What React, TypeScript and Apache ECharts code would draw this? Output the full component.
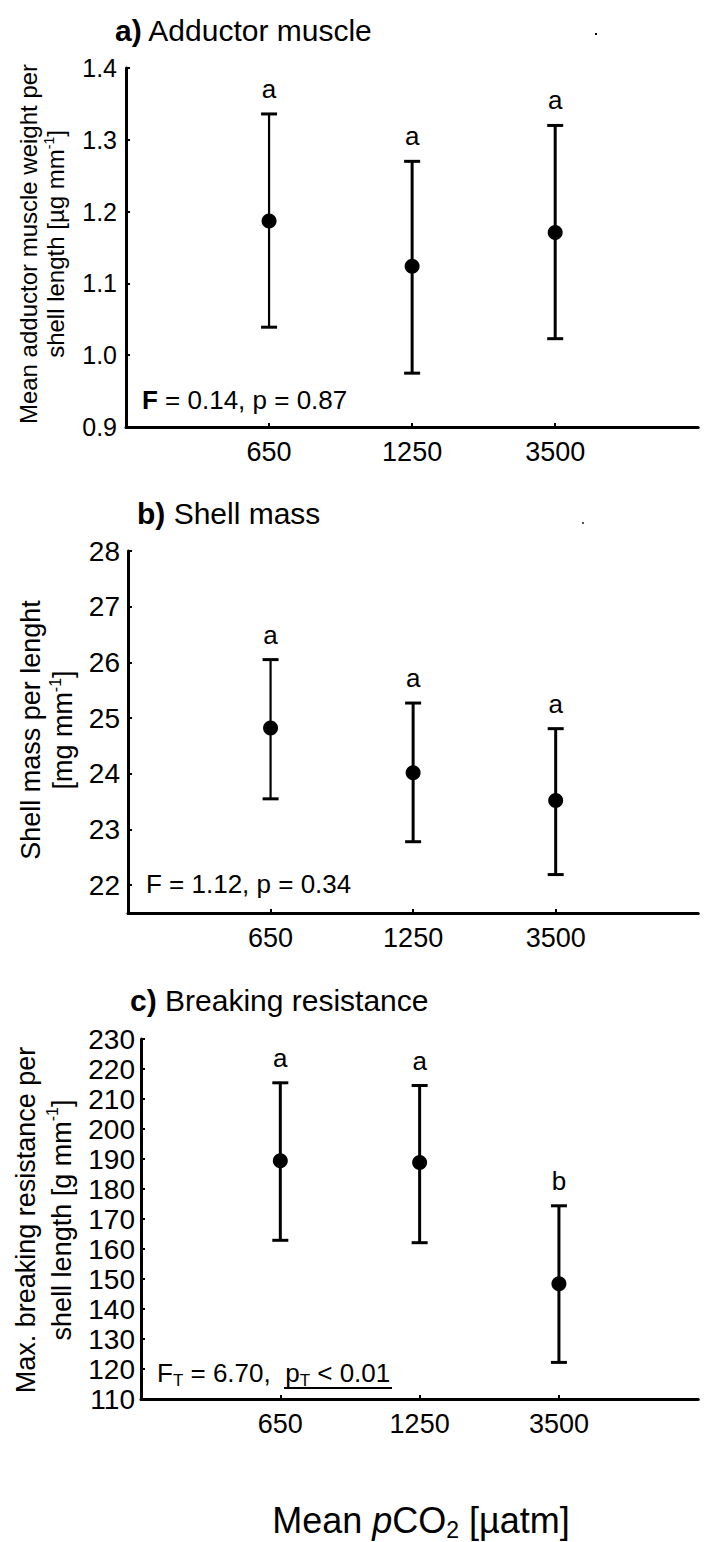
import React, { useEffect, useRef } from "react";
import * as echarts from "echarts";

const FONT = '"Liberation Sans", Arial, Helvetica, sans-serif';

// categories (mean pCO2, µatm)
const categories = ["650", "1250", "3500"];
const xSlots = ["", ...categories, " "];

// a) Adductor muscle
const adductorMean = [1.187, 1.124, 1.171];
const adductorUpper = [1.336, 1.27, 1.32];
const adductorLower = [1.039, 0.975, 1.023];
const adductorLetters = ["a", "a", "a"];

// b) Shell mass
const shellMean = [24.82, 24.02, 23.52];
const shellUpper = [26.05, 25.27, 24.81];
const shellLower = [23.55, 22.78, 22.19];
const shellLetters = ["a", "a", "a"];
const shellTicks = [22, 23, 24, 25, 26, 27, 28];

// c) Breaking resistance
const breakMean = [189.4, 188.8, 148.4];
const breakUpper = [215.4, 214.5, 174.4];
const breakLower = [162.9, 162.1, 122.2];
const breakLetters = ["a", "a", "b"];

const BLACK = "#000";

function makeErrorSeries(idx: number, lower: number[], upper: number[], letters: string[], widths: number[]) {
  return {
    type: "custom",
    xAxisIndex: idx,
    yAxisIndex: idx,
    clip: false,
    z: 2,
    data: lower.map((lo, i) => [i + 1, lo, upper[i]]),
    renderItem: (params: any, api: any) => {
      const top = api.coord([api.value(0), api.value(2)]);
      const bot = api.coord([api.value(0), api.value(1)]);
      const x = top[0];
      const cw = 8;
      const lw = widths[params.dataIndex];
      return {
        type: "group",
        children: [
          { type: "line", shape: { x1: x, y1: top[1], x2: x, y2: bot[1] }, style: { stroke: BLACK, lineWidth: lw } },
          { type: "line", shape: { x1: x - cw, y1: top[1], x2: x + cw, y2: top[1] }, style: { stroke: BLACK, lineWidth: 3 } },
          { type: "line", shape: { x1: x - cw, y1: bot[1], x2: x + cw, y2: bot[1] }, style: { stroke: BLACK, lineWidth: 3 } },
          {
            type: "text",
            style: {
              text: letters[params.dataIndex],
              x,
              y: top[1] - 25,
              align: "center",
              verticalAlign: "middle",
              fontSize: 26,
              fontFamily: FONT,
              fill: BLACK,
            },
          },
        ],
      };
    },
  };
}

function makeMeanSeries(idx: number, means: number[]) {
  return {
    type: "scatter",
    xAxisIndex: idx,
    yAxisIndex: idx,
    symbol: "circle",
    symbolSize: 15,
    z: 3,
    itemStyle: { color: BLACK, opacity: 1 },
    data: means.map((v, i) => [i + 1, v]),
  };
}

function makeXAxis(idx: number) {
  return {
    type: "category",
    gridIndex: idx,
    data: xSlots,
    boundaryGap: false,
    axisLine: { lineStyle: { color: BLACK, width: 3 } },
    axisTick: {
      show: true,
      inside: true,
      length: 4,
      interval: (i: number) => i >= 1 && i <= categories.length,
      lineStyle: { color: BLACK, width: 2 },
    },
    axisLabel: { interval: 0, color: BLACK, fontSize: 27, fontFamily: FONT, margin: 11 },
    splitLine: { show: false },
  };
}

export default function App() {
  const ref = useRef<HTMLDivElement>(null);
  useEffect(() => {
    document.body.style.margin = "0";
    if (!ref.current) return;
    const chart = echarts.init(ref.current, undefined, { renderer: "svg" });

    const yAxisCommon = {
      axisLine: { show: true, lineStyle: { color: BLACK, width: 3 } },
      axisTick: { show: true, inside: true, length: 4, lineStyle: { color: BLACK, width: 2 } },
      splitLine: { show: false },
    };

    const titleText = (x: number, y: number, bold: string, rest: string) => ({
      type: "text",
      x,
      y,
      style: {
        text: `{b|${bold}} ${rest}`,
        fontSize: 30,
        fontFamily: FONT,
        fill: BLACK,
        verticalAlign: "middle",
        rich: { b: { fontWeight: "bold", fontSize: 30, fontFamily: FONT } },
      },
    });

    const supRich = (size: number, lh: number) => ({
      sup: { fontSize: Math.round(size * 0.6), fontFamily: FONT, verticalAlign: "top", lineHeight: lh },
    });

    const option: any = {
      animation: false,
      backgroundColor: "#fff",
      grid: [
        { left: 126, top: 68, width: 579, height: 359 },
        { left: 128, top: 551, width: 577, height: 362 },
        { left: 141, top: 1039, width: 564, height: 360 },
      ],
      xAxis: [makeXAxis(0), makeXAxis(1), makeXAxis(2)],
      yAxis: [
        {
          type: "value",
          gridIndex: 0,
          min: 0.9,
          max: 1.4,
          interval: 0.1,
          ...yAxisCommon,
          axisLabel: { color: BLACK, fontSize: 25, fontFamily: FONT, margin: 9, formatter: (v: number) => v.toFixed(1) },
        },
        {
          type: "value",
          gridIndex: 1,
          min: 21.5,
          max: 28,
          ...yAxisCommon,
          axisTick: { ...yAxisCommon.axisTick, customValues: shellTicks },
          axisLabel: { color: BLACK, fontSize: 28, fontFamily: FONT, margin: 8, customValues: shellTicks },
        },
        {
          type: "value",
          gridIndex: 2,
          min: 110,
          max: 230,
          interval: 10,
          ...yAxisCommon,
          axisLabel: { color: BLACK, fontSize: 28, fontFamily: FONT, margin: 6 },
        },
      ],
      series: [
        makeErrorSeries(0, adductorLower, adductorUpper, adductorLetters, [2.2, 3, 3]),
        makeMeanSeries(0, adductorMean),
        makeErrorSeries(1, shellLower, shellUpper, shellLetters, [2.2, 3, 3]),
        makeMeanSeries(1, shellMean),
        makeErrorSeries(2, breakLower, breakUpper, breakLetters, [3, 3, 3]),
        makeMeanSeries(2, breakMean),
      ],
      graphic: [
        titleText(115, 30, "a)", "Adductor muscle"),
        titleText(137, 513, "b)", "Shell mass"),
        titleText(130, 1000, "c)", "Breaking resistance"),
        // stray dots
        { type: "rect", shape: { x: 595, y: 33, width: 2, height: 2 }, style: { fill: BLACK } },
        { type: "rect", shape: { x: 582, y: 522, width: 2, height: 2 }, style: { fill: "#555" } },
        // y axis titles
        {
          type: "text",
          x: 42,
          y: 244,
          rotation: Math.PI / 2,
          style: {
            text: "Mean adductor muscle weight per\nshell length [µg mm{sup|-1}]",
            fontSize: 24,
            lineHeight: 27,
            fontFamily: FONT,
            fill: BLACK,
            align: "center",
            verticalAlign: "middle",
            rich: supRich(24, 27),
          },
        },
        {
          type: "text",
          x: 47,
          y: 730,
          rotation: Math.PI / 2,
          style: {
            text: "Shell mass per lenght\n[mg mm{sup|-1}]",
            fontSize: 27,
            lineHeight: 32,
            fontFamily: FONT,
            fill: BLACK,
            align: "center",
            verticalAlign: "middle",
            rich: supRich(27, 32),
          },
        },
        {
          type: "text",
          x: 44,
          y: 1220,
          rotation: Math.PI / 2,
          style: {
            text: "Max. breaking resistance per\nshell length [g mm{sup|-1}]",
            fontSize: 27,
            lineHeight: 36,
            fontFamily: FONT,
            fill: BLACK,
            align: "center",
            verticalAlign: "middle",
            rich: supRich(27, 36),
          },
        },
        // statistics
        {
          type: "text",
          x: 142,
          y: 400,
          style: {
            text: "{b|F} = 0.14, p = 0.87",
            fontSize: 26,
            fontFamily: FONT,
            fill: BLACK,
            verticalAlign: "middle",
            rich: { b: { fontWeight: "bold", fontSize: 26, fontFamily: FONT } },
          },
        },
        {
          type: "text",
          x: 146,
          y: 884,
          style: { text: "F = 1.12, p = 0.34", fontSize: 26, fontFamily: FONT, fill: BLACK, verticalAlign: "middle" },
        },
        {
          type: "text",
          x: 157,
          y: 1373,
          style: {
            text: "F{sub|T} = 6.70,  p{sub|T} < 0.01",
            fontSize: 26,
            lineHeight: 31,
            fontFamily: FONT,
            fill: BLACK,
            verticalAlign: "middle",
            rich: { sub: { fontSize: 17, fontFamily: FONT, verticalAlign: "bottom", lineHeight: 17 } },
          },
        },
        { type: "line", shape: { x1: 284, y1: 1388, x2: 392, y2: 1388 }, style: { stroke: BLACK, lineWidth: 2 } },
        // x axis title
        {
          type: "text",
          x: 421,
          y: 1520,
          style: {
            text: "Mean {i|p}CO{sub|2} [µatm]",
            fontSize: 36,
            lineHeight: 43,
            fontFamily: FONT,
            fill: BLACK,
            align: "center",
            verticalAlign: "middle",
            rich: {
              i: { fontStyle: "italic", fontSize: 36, fontFamily: FONT, lineHeight: 43 },
              sub: { fontSize: 23, fontFamily: FONT, verticalAlign: "bottom", lineHeight: 23 },
            },
          },
        },
      ],
    };

    chart.setOption(option);
    return () => chart.dispose();
  }, []);

  return <div ref={ref} style={{ width: 705, height: 1542 }} />;
}
